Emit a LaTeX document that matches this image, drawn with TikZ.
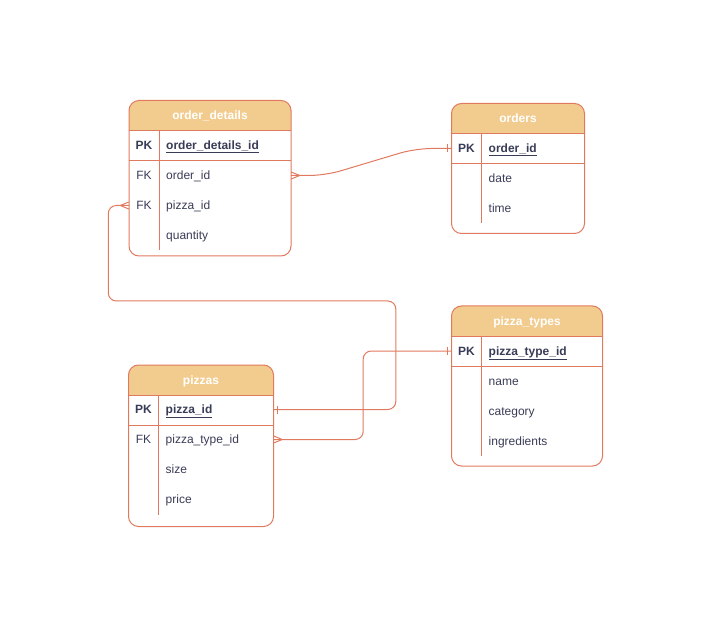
\documentclass[tikz,border=0pt]{standalone}
\usepackage{fontspec}
\setmainfont{Liberation Sans}
\usetikzlibrary{calc}

\definecolor{erline}{HTML}{E07A5F}
\definecolor{erhead}{HTML}{F2CC8F}
\definecolor{ertext}{HTML}{393C56}

\tikzset{
  x=1pt, y=-1pt,
  erstroke/.style={draw=erline, line width=1pt},
  erframe/.style={erstroke, rounded corners=10pt},
  erlink/.style={erstroke, rounded corners=8pt},
  rowbox/.style={inner sep=0pt, minimum height=30pt},
  keytext/.style={anchor=base, inner sep=0pt, text=ertext, font=\fontsize{12}{14}\selectfont},
  fieldtext/.style={anchor=base west, inner sep=0pt, text=ertext, font=\fontsize{12}{14}\selectfont},
  titletext/.style={anchor=base, inner sep=0pt, text=white, font=\fontsize{12}{14}\selectfont\bfseries},
  crowfoot/.pic={\draw[erstroke] (0,-3.5) -- (8.5,0) -- (0,3.5);},
  onebar/.pic={\draw[erstroke] (-4,-4) -- (-4,4);},
}

% table outline: #1 name, #2 left, #3 top, #4 width, #5 bottom, #6 title, #7 end of key column line
\newcommand\erTable[7]{%
  \begin{scope}
    \clip (#2,#3) rectangle ({#2+#4},{#3+30});
    \fill[erhead, rounded corners=10pt] (#2,#3) rectangle ({#2+#4},{#3+45});
  \end{scope}
  \node[inner sep=0pt, minimum width=#4, minimum height={#5-#3}, anchor=north west] (#1) at (#2,#3) {};
  \draw[erframe] (#2,#3) rectangle ({#2+#4},#5);
  \draw[erstroke] (#2,{#3+30}) -- ({#2+#4},{#3+30});
  \draw[erstroke] (#2,{#3+60}) -- ({#2+#4},{#3+60});
  \draw[erstroke] ({#2+30},{#3+30}) -- ({#2+30},#7);
  \node[titletext] (#1-title) at ({#2+#4/2},{#3+19.5}) {#6};
}

% table row: #1 name, #2 left, #3 centre y, #4 width, #5 key, #6 field
\newcommand\erRow[6]{%
  \node[rowbox, minimum width=#4] (#1) at ({#2+#4/2},#3) {};
  \node[keytext] (#1-key) at ({#2+15},{#3+4.3}) {#5};
  \node[fieldtext] (#1-name) at ({#2+37},{#3+4.3}) {#6};
}

\begin{document}
\begin{tikzpicture}
  \useasboundingbox (0,0) rectangle (704,628);

  % order_details
  \erTable{od}{129}{100.5}{162}{256}{order\_details}{250.5}
  \erRow{od-pk}{129}{145.5}{162}{\textbf{PK}}{\textbf{\underline{order\_details\_id}}}
  \erRow{od-order}{129}{175.5}{162}{FK}{order\_id}
  \erRow{od-pizza}{129}{205.5}{162}{FK}{pizza\_id}
  \erRow{od-qty}{129}{235.5}{162}{}{quantity}

  % orders
  \erTable{or}{451.5}{103.5}{133}{233.5}{orders}{223.5}
  \erRow{or-pk}{451.5}{148.5}{133}{\textbf{PK}}{\textbf{\underline{order\_id}}}
  \erRow{or-date}{451.5}{178.5}{133}{}{date}
  \erRow{or-time}{451.5}{208.5}{133}{}{time}

  % pizzas
  \erTable{pz}{128.5}{365}{145}{526.5}{pizzas}{514.5}
  \erRow{pz-pk}{128.5}{409.5}{145}{\textbf{PK}}{\textbf{\underline{pizza\_id}}}
  \erRow{pz-type}{128.5}{439.5}{145}{FK}{pizza\_type\_id}
  \erRow{pz-size}{128.5}{469.5}{145}{}{size}
  \erRow{pz-price}{128.5}{499.5}{145}{}{price}

  % pizza_types
  \erTable{pt}{451.5}{306}{151}{466}{pizza\_types}{456}
  \erRow{pt-pk}{451.5}{351}{151}{\textbf{PK}}{\textbf{\underline{pizza\_type\_id}}}
  \erRow{pt-name}{451.5}{381}{151}{}{name}
  \erRow{pt-cat}{451.5}{411}{151}{}{category}
  \erRow{pt-ing}{451.5}{441}{151}{}{ingredients}

  % relationships
  \draw[erstroke, rounded corners=16pt] (od-order.east) -- ++(34,0)
    -- ($(or-pk.west)+(-36,0)$) -- (or-pk.west);
  \pic at (od-order.east) {crowfoot};
  \pic at (or-pk.west) {onebar};

  \draw[erlink] (od-pizza.west) -- ++(-20.5,0) -- ++(0,95.5) -- ++(287.5,0)
    |- (pz-pk.east);
  \pic[rotate=180] at (od-pizza.west) {crowfoot};
  \pic[rotate=180] at (pz-pk.east) {onebar};

  \draw[erlink] (pz-type.east) -- ++(89.5,0) |- (pt-pk.west);
  \pic at (pz-type.east) {crowfoot};
  \pic at (pt-pk.west) {onebar};
\end{tikzpicture}
\end{document}
